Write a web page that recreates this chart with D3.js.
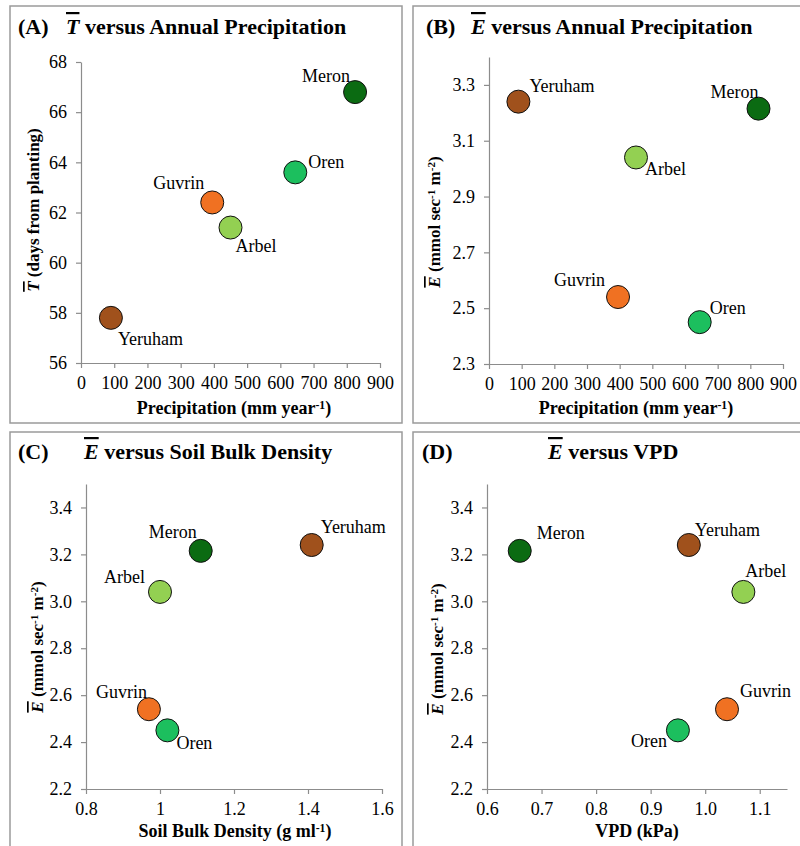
<!DOCTYPE html>
<html>
<head>
<meta charset="utf-8">
<script src="https://cdn.jsdelivr.net/npm/d3@7"></script>
<style>
  body { margin: 0; background: #fff; }
  svg, svg text { font-family: "Liberation Serif", "Times New Roman", serif; }
</style>
</head>
<body>
<svg id="chart" width="800" height="846"></svg>
<script>
// site data, same order everywhere
const sites = ["Meron", "Oren", "Arbel", "Guvrin", "Yeruham"];
const siteColors = ["#0b6b12", "#1cbf5e", "#93d052", "#f07122", "#a0511c"];
const precipitation = [825, 645, 450, 395, 90];     // mm/year
const tBar = [66.8, 63.6, 61.4, 62.4, 57.8];       // days from planting
const eBar = [3.215, 2.45, 3.04, 2.54, 3.24];      // mmol sec-1 m-2
const bulkDensity = [1.11, 1.02, 1.0, 0.97, 1.41]; // g/ml
const vpd = [0.66, 0.95, 1.07, 1.04, 0.97];        // kPa

// tick labels
const precipTicks = [0, 100, 200, 300, 400, 500, 600, 700, 800, 900];
const tTicks = [56, 58, 60, 62, 64, 66, 68];
const eTicksB = [2.3, 2.5, 2.7, 2.9, 3.1, 3.3];
const eTicksCD = [2.2, 2.4, 2.6, 2.8, 3.0, 3.2, 3.4];
const densityTicks = [0.8, 1.0, 1.2, 1.4, 1.6];
const vpdTicks = [0.6, 0.7, 0.8, 0.9, 1.0, 1.1];

const SERIF = '"Liberation Serif", "Times New Roman", serif';
const svg = d3.select("#chart").attr("font-family", SERIF);

// point label placement per panel: [dx, dy, anchor] relative to the circle centre
const labelPos = {
  A: { Meron: [-5, -10, "end"], Oren: [13, -4, "start"], Guvrin: [-8, -13, "end"], Arbel: [5, 24, "start"], Yeruham: [7, 27, "start"] },
  B: { Yeruham: [11, -10, "start"], Meron: [0, -11, "end"], Arbel: [9, 18, "start"], Guvrin: [-13, -11, "end"], Oren: [10, -8, "start"] },
  C: { Yeruham: [9, -12, "start"], Meron: [-4, -13, "end"], Arbel: [-15, -9, "end"], Guvrin: [-2, -11, "end"], Oren: [9, 19, "start"] },
  D: { Meron: [17, -12, "start"], Yeruham: [6, -9, "start"], Arbel: [2, -15, "start"], Guvrin: [13, -12, "start"], Oren: [-11, 17, "end"] }
};

// writes a label made of parts: {t, it, over, sup}
function richText(sel, parts) {
  parts.forEach(p => {
    const ts = sel.append("tspan").text(p.t);
    if (p.it) ts.attr("font-style", "italic");
    if (p.over) ts.style("text-decoration", "overline");
    if (p.sup) ts.attr("font-size", "0.65em").attr("dy", "-0.45em");
    if (p.afterSup) ts.attr("dy", "0.3em");
  });
}

function drawPanel(cfg) {
  const g = svg.append("g").attr("font-family", SERIF);

  g.append("rect")
    .attr("x", cfg.box[0]).attr("y", cfg.box[1])
    .attr("width", cfg.box[2]).attr("height", cfg.box[3])
    .attr("fill", "none").attr("stroke", "#9a9a9a").attr("stroke-width", 1.5);

  const x = d3.scaleLinear().domain(cfg.xDomain).range(cfg.xRange);
  const y = d3.scaleLinear().domain(cfg.yDomain).range(cfg.yRange);

  const xAxis = g.append("g")
    .attr("transform", `translate(0,${cfg.yRange[0]})`)
    .call(d3.axisBottom(x).tickValues(cfg.xTicks).tickFormat(cfg.xFmt).tickSizeInner(5).tickSizeOuter(0).tickPadding(8));
  const yAxis = g.append("g")
    .attr("transform", `translate(${cfg.xRange[0]},0)`)
    .call(d3.axisLeft(y).tickValues(cfg.yTicks).tickFormat(cfg.yFmt).tickSizeInner(5).tickSizeOuter(0).tickPadding(9));

  [xAxis, yAxis].forEach(a => {
    a.attr("font-family", SERIF);
    a.select(".domain").attr("stroke", "#8c8c8c").attr("stroke-width", 1.2);
    a.selectAll(".tick line").attr("stroke", "#8c8c8c").attr("stroke-width", 1.2);
    a.selectAll(".tick text").attr("font-size", 18).attr("fill", "#000");
  });

  // titles
  g.append("text").attr("x", cfg.tag[0]).attr("y", cfg.tag[1])
    .attr("font-size", 22).attr("font-weight", "bold").text(cfg.tagText);
  const title = g.append("text").attr("x", cfg.title[0]).attr("y", cfg.title[1])
    .attr("font-size", 22).attr("font-weight", "bold");
  richText(title, cfg.titleParts);

  const xt = g.append("text").attr("x", cfg.xTitle[0]).attr("y", cfg.xTitle[1])
    .attr("text-anchor", "middle").attr("font-size", 18).attr("font-weight", "bold");
  richText(xt, cfg.xTitleParts);

  const yt = g.append("text")
    .attr("transform", `translate(${cfg.yTitle[0]},${cfg.yTitle[1]}) rotate(-90)`)
    .attr("text-anchor", "middle").attr("font-size", 17).attr("font-weight", "bold");
  richText(yt, cfg.yTitleParts);

  // points
  const pts = sites.map((s, i) => ({ site: s, x: cfg.xVals[i], y: cfg.yVals[i], color: siteColors[i] }));
  g.selectAll("circle.pt").data(pts).join("circle")
    .attr("class", "pt")
    .attr("cx", d => x(d.x)).attr("cy", d => y(d.y)).attr("r", 11.5)
    .attr("fill", d => d.color).attr("stroke", "#111").attr("stroke-width", 1);

  g.selectAll("text.lbl").data(pts).join("text")
    .attr("class", "lbl")
    .attr("x", d => x(d.x) + cfg.labels[d.site][0])
    .attr("y", d => y(d.y) + cfg.labels[d.site][1])
    .attr("text-anchor", d => cfg.labels[d.site][2])
    .attr("font-size", 18)
    .text(d => d.site);
}

const fmt1 = d3.format(".1f");
const fmtShort = d => String(+d.toFixed(1));
const tParts = [{ t: "T", it: true, over: true }];
const eParts = [{ t: "E", it: true, over: true }];
const precipTitle = [{ t: "Precipitation (mm year" }, { t: "-1", sup: true }, { t: ")", afterSup: true }];
const eAxisTitle = eParts.concat([{ t: " (mmol sec" }, { t: "-1", sup: true }, { t: " m", afterSup: true }, { t: "-2", sup: true }, { t: ")", afterSup: true }]);

drawPanel({
  box: [10, 6, 392, 417],
  xDomain: [0, 900], xRange: [81, 380], xTicks: precipTicks, xFmt: d3.format("d"),
  yDomain: [56, 68], yRange: [363, 62], yTicks: tTicks, yFmt: d3.format("d"),
  tag: [18, 34], tagText: "(A)",
  title: [66, 34], titleParts: tParts.concat([{ t: " versus Annual Precipitation" }]),
  xTitle: [234, 414], xTitleParts: precipTitle,
  yTitle: [39, 210], yTitleParts: tParts.concat([{ t: " (days from planting)" }]),
  xVals: precipitation, yVals: tBar, labels: labelPos.A
});

drawPanel({
  box: [413, 6, 392, 417],
  xDomain: [0, 900], xRange: [489, 783], xTicks: precipTicks, xFmt: d3.format("d"),
  yDomain: [2.3, 3.4], yRange: [364, 57], yTicks: eTicksB, yFmt: fmt1,
  tag: [426, 34], tagText: "(B)",
  title: [471, 34], titleParts: eParts.concat([{ t: " versus Annual Precipitation" }]),
  xTitle: [636, 414], xTitleParts: precipTitle,
  yTitle: [440, 222], yTitleParts: eAxisTitle,
  xVals: precipitation, yVals: eBar, labels: labelPos.B
});

drawPanel({
  box: [10, 432, 392, 420],
  xDomain: [0.8, 1.6], xRange: [86, 382], xTicks: densityTicks, xFmt: fmtShort,
  yDomain: [2.2, 3.5], yRange: [789, 484], yTicks: eTicksCD, yFmt: fmt1,
  tag: [18, 459], tagText: "(C)",
  title: [84, 459], titleParts: eParts.concat([{ t: " versus Soil Bulk Density" }]),
  xTitle: [235, 837], xTitleParts: [{ t: "Soil Bulk Density (g ml" }, { t: "-1", sup: true }, { t: ")", afterSup: true }],
  yTitle: [43, 647], yTitleParts: eAxisTitle,
  xVals: bulkDensity, yVals: eBar, labels: labelPos.C
});

drawPanel({
  box: [413, 432, 392, 420],
  xDomain: [0.6, 1.15], xRange: [487, 787], xTicks: vpdTicks, xFmt: fmt1,
  yDomain: [2.2, 3.5], yRange: [789, 484], yTicks: eTicksCD, yFmt: fmt1,
  tag: [422, 459], tagText: "(D)",
  title: [548, 459], titleParts: eParts.concat([{ t: " versus VPD" }]),
  xTitle: [637, 837], xTitleParts: [{ t: "VPD (kPa)" }],
  yTitle: [443, 649], yTitleParts: eAxisTitle,
  xVals: vpd, yVals: eBar, labels: labelPos.D
});
</script>
</body>
</html>
